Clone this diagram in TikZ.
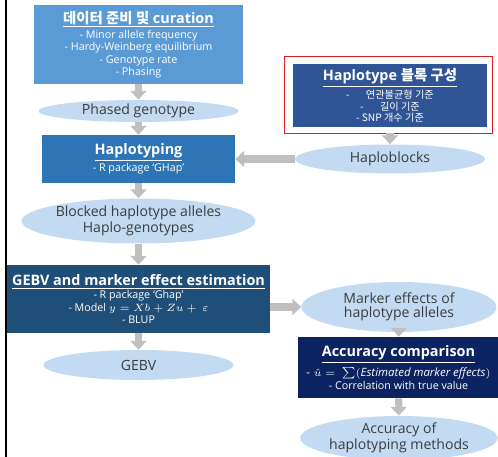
\documentclass[tikz,border=0pt]{standalone}
\usepackage{fontspec}
\setmainfont{Open Sans}
\newfontfamily\kr{Noto Sans CJK KR}
\usepackage{amsmath}
\usetikzlibrary{arrows.meta,shapes.geometric}
\definecolor{FillData}{RGB}{91,155,213}
\definecolor{FillHap}{RGB}{46,117,182}
\definecolor{FillBlock}{RGB}{47,85,151}
\definecolor{FillGEBV}{RGB}{31,78,121}
\definecolor{FillAcc}{RGB}{12,35,98}
\definecolor{FillEll}{RGB}{194,219,242}
\definecolor{TextEll}{RGB}{60,60,60}
\definecolor{ArrGray}{RGB}{191,191,191}
\definecolor{FrameRed}{RGB}{214,32,32}
\newcommand{\boxtitle}[1]{{\fontsize{8.2}{9}\selectfont\bfseries\underline{#1}}}

\begin{document}
\begin{tikzpicture}[x=0.02cm, y=-0.02cm,
    box/.style={rectangle, inner sep=0pt, align=center, text=white, font=\fontsize{6.1}{7}\selectfont},
    ell/.style={ellipse, inner sep=0pt, fill=FillEll, align=center, text=TextEll, font=\fontsize{8}{7.8}\selectfont},
    arr/.style={draw=ArrGray, line width=4pt, -{Triangle[width=9pt,length=5pt]}}
  ]
  \fill[white] (0,0) rectangle (498,457);
  \useasboundingbox (0,0) rectangle (498,457);
  \draw[line width=1.3pt] (6,0) -- (6,457);

  % left column
  \node[box, fill=FillData, minimum width=4.2cm, minimum height=1.58cm] (data) at (138.5,44.5)
    {\boxtitle{{\kr 데이터 준비 및} curation}\\[0.5pt] - Minor allele frequency\\ - Hardy-Weinberg equilibrium\\ - Genotype rate\\ - Phasing};
  \node[ell, minimum width=4.0cm, minimum height=0.44cm] (phased) at (138.5,111) {Phased genotype};
  \node[box, fill=FillHap, minimum width=3.86cm, minimum height=0.96cm] (haplo) at (138.5,159)
    {\boxtitle{Haplotyping}\\[0.5pt] - R package `GHap'};
  \node[ell, minimum width=4.54cm, minimum height=0.9cm] (blocked) at (138.5,221)
    {Blocked haplotype alleles\\ Haplo-genotypes};
  \node[box, fill=FillGEBV, minimum width=5.26cm, minimum height=1.36cm] (gebvbox) at (138.5,299)
    {\boxtitle{GEBV and marker effect estimation}\\[0.5pt] - R package `Ghap'\\ - Model $y = Xb + Zu +\ \varepsilon$\\ - BLUP};
  \node[ell, minimum width=3.8cm, minimum height=0.6cm] (gebv) at (138.5,365) {GEBV};

  % right column
  \node[box, fill=FillBlock, minimum width=3.88cm, minimum height=1.26cm, font=\fontsize{5.8}{6.7}\selectfont] (blockbox) at (390,95.5)
    {\boxtitle{Haplotype {\kr 블록 구성}}\\[0.5pt] {\kr -\hspace{1.6em}연관불균형 기준}\\ {\kr -\hspace{1.6em}길이 기준}\\ {\kr - SNP 개수 기준}};
  \draw[FrameRed, line width=0.9pt] ([xshift=-0.16cm,yshift=0.14cm]blockbox.north west) rectangle ([xshift=0.1cm,yshift=-0.12cm]blockbox.south east);
  \node[ell, minimum width=3.8cm, minimum height=0.58cm] (haploblocks) at (390,159) {Haploblocks};
  \node[ell, minimum width=3.9cm, minimum height=1.0cm] (marker) at (399,307)
    {Marker effects of\\ haplotype alleles};
  \node[box, fill=FillAcc, minimum width=4.02cm, minimum height=1.22cm] (acc) at (398.5,367.5)
    {\boxtitle{Accuracy comparison}\\[1.5pt] {\fontsize{6.5}{7}\selectfont -\,\,$\hat{u} =\ \sum(\mathit{Estimated\ marker\ effects})$}\\[0.5pt] - Correlation with true value};
  \node[ell, minimum width=3.8cm, minimum height=0.88cm] (accmeth) at (399,438)
    {Accuracy of\\ haplotyping methods};

  \draw[arr] (data) -- (phased);
  \draw[arr] (phased) -- (haplo);
  \draw[arr] (haplo) -- (blocked);
  \draw[arr] (blocked) -- (gebvbox);
  \draw[arr] (gebvbox) -- (gebv);
  \draw[arr, shorten <=3.4pt] (blockbox) -- (haploblocks);
  \draw[arr] (haploblocks) -- (haplo);
  \draw[arr] (gebvbox.east |- marker.west) -- (marker.west);
  \draw[arr] (marker) -- (acc);
  \draw[arr] (acc) -- (accmeth);
\end{tikzpicture}
\end{document}
